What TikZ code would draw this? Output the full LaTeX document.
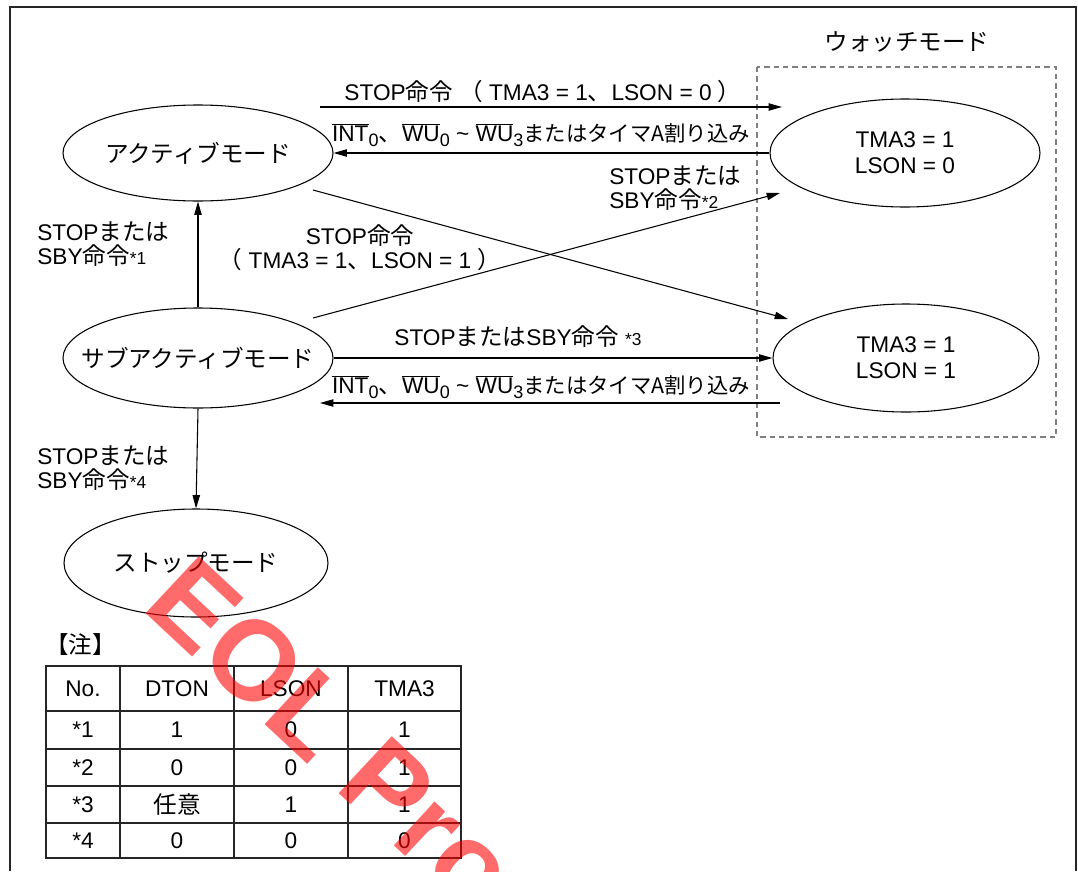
\documentclass[tikz,border=0pt]{standalone}
\usepackage{fontspec}
\setmainfont{Liberation Sans}
\newfontfamily\jp[Scale=1.04]{Noto Sans CJK JP}
\usetikzlibrary{arrows.meta,shapes.geometric}
\newcommand\J[1]{{\jp #1}}
\newcommand\Js[1]{{\fontsize{15.4}{18}\selectfont\jp #1}}
\newcommand\ovl[1]{$\overline{\hbox{#1}}$}
\newcommand\sbs[1]{\raisebox{-3.5pt}{\fontsize{13.5}{13.5}\selectfont #1}}
\newcommand\nte[1]{{\fontsize{13}{13}\selectfont *#1}}
\newcommand\wake{\ovl{INT}\sbs{0}\J{、}\ovl{WU}\sbs{0} \textasciitilde\ \ovl{WU}\sbs{3}\Js{またはタイマA割り込み}}
\begin{document}
\begin{tikzpicture}[x=0.75pt,y=-0.75pt,
  ln/.style={line width=0.8pt, -{Triangle[length=10pt,width=5.5pt]}},
  st/.style={draw, ellipse, line width=0.8pt, inner sep=0pt, font=\fontsize{17}{19.5}\selectfont, align=center},
  lbl/.style={inner sep=0pt, font=\fontsize{17}{18}\selectfont},
  cell/.style={inner sep=0pt, font=\fontsize{17}{18}\selectfont},
  grid/.style={line width=0.8pt, black!85}]
\useasboundingbox (0,0) rectangle (1078,871);
\draw[line width=1.3pt, black!85] (10,871) -- (10,7) -- (1076,7) -- (1076,871);
\draw[gray, line width=0.8pt, dash pattern=on 4pt off 3pt] (757,67) rectangle (1056,437);
\node[lbl] (wt) at (907,42) {\J{ウォッチモード}};

\node[st, minimum width=202.5pt, minimum height=72pt] (A) at (198,153) {\makebox[0pt]{\J{アクティブモード}}};
\node[st, minimum width=202.5pt, minimum height=75pt] (S) at (198,358) {\makebox[0pt]{\J{サブアクティブモード}}};
\node[st, minimum width=198pt, minimum height=81pt] (P) at (196,563) {\makebox[0pt]{\J{ストップモード}}};
\node[st, minimum width=202.5pt, minimum height=81pt] (W0) at (905,153) {TMA3 = 1\\LSON = 0};
\node[st, minimum width=199.5pt, minimum height=81pt] (W1) at (906,358) {TMA3 = 1\\LSON = 1};

\coordinate (c1s) at (320,107); \coordinate (c1e) at (782,107);
\coordinate (d1s) at (313,190); \coordinate (d1e) at (788,319);
\coordinate (d2s) at (313,318); \coordinate (d2e) at (780,193);
\coordinate (c7s) at (780,403); \coordinate (c7e) at (320,403);

\draw[ln] (c1s) -- (c1e);
\draw[ln] (W0.west) -- (A.east);
\draw[ln] (d1s) -- (d1e);
\draw[ln] (d2s) -- (d2e);
\draw[ln] (S.north) -- (A.south);
\draw[ln] (S.east) -- (W1.west);
\draw[ln] (c7s) -- (c7e);
\draw[ln] (S.south) -- (P.north);

\node[lbl] (l1) at (543,92) {STOP\J{命令} \J{（} TMA3 = 1\J{、}LSON = 0 \J{）}};
\node[lbl] (l2) at (541,135) {\wake};
\node[lbl, anchor=west, align=left] (l3) at (609,188) {STOP\J{または}\\SBY\J{命令}\nte{2}};
\node[lbl, align=center] (l4) at (360,248) {STOP\J{命令}\\\J{（} TMA3 = 1\J{、}LSON = 1 \J{）}};
\node[lbl, anchor=west, align=left] (l5) at (37,244) {STOP\J{または}\\SBY\J{命令}\nte{1}};
\node[lbl] (l6) at (518,337) {STOP\J{または}SBY\J{命令} \nte{3}};
\node[lbl] (l7) at (541,387) {\wake};
\node[lbl, anchor=west, align=left] (l8) at (37,468) {STOP\J{または}\\SBY\J{命令}\nte{4}};
\node[lbl, anchor=west] (note) at (45,645) {\J{【注】}};

\draw[grid] (46,666) rectangle (461,858);
\foreach \x in {120,234,348} \draw[grid] (\x,666) -- (\x,858);
\foreach \y in {711,749,786,823} \draw[grid] (46,\y) -- (461,\y);
\foreach \r/\y/\a/\b/\c/\d in {0/688.5/No./DTON/LSON/TMA3, 1/730/*1/1/0/1, 2/767.5/*2/0/0/1, 3/804.5/*3/\J{任意}/1/1, 4/840.5/*4/0/0/0} {
  \node[cell] (r\r a) at (83,\y) {\a};
  \node[cell] (r\r b) at (177,\y) {\b};
  \node[cell] (r\r c) at (291,\y) {\c};
  \node[cell] (r\r d) at (404.5,\y) {\d};
}

\begin{scope}
\clip (0,0) rectangle (1078,871);
\node[rotate=-43, anchor=base west, inner sep=0pt, text=red, text opacity=0.58, font=\fontsize{85}{85}\selectfont\bfseries] (wm) at (140,608) {EOL Products};
\end{scope}
\end{tikzpicture}
\end{document}
